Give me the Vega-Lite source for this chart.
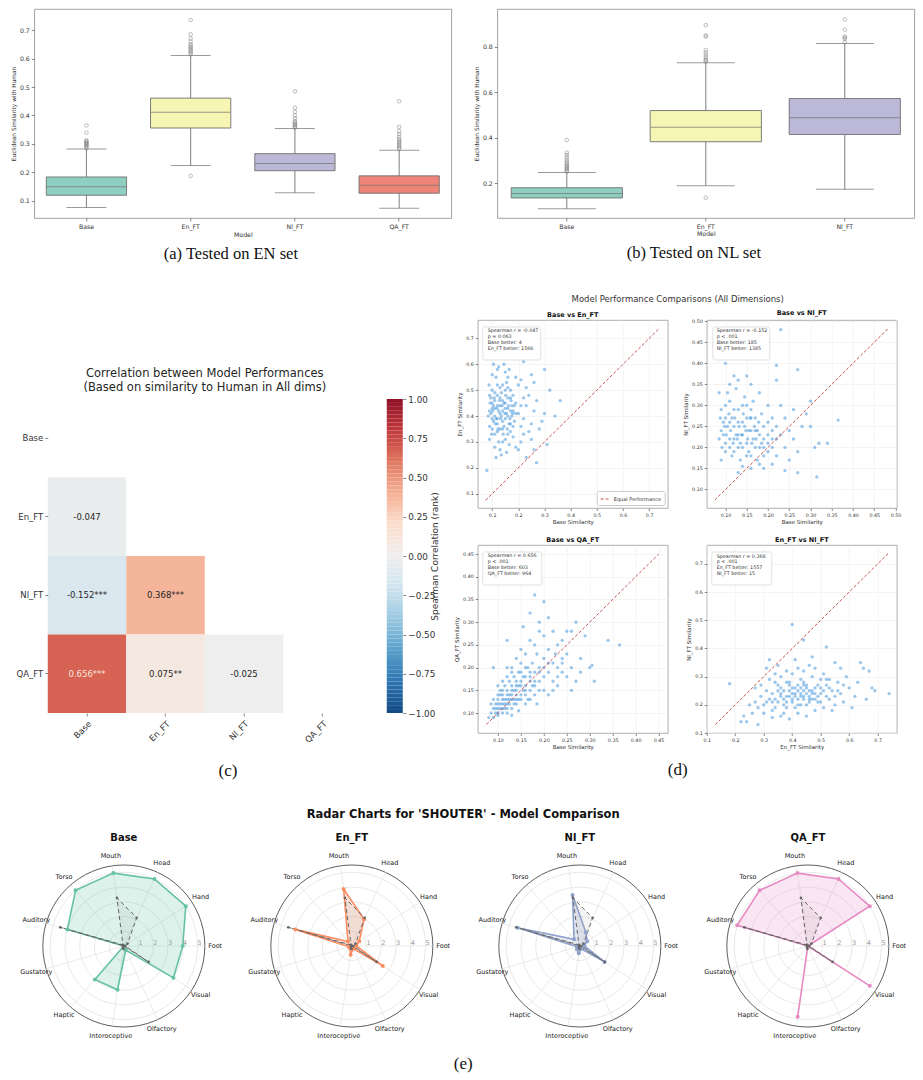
{
"$schema": "https://vega.github.io/schema/vega-lite/v6.json",
"background": "white",
"padding": {"left": 10, "top": 8, "right": 5, "bottom": 4},
"config": {
 "font": "DejaVu Sans",
 "view": {"stroke": "#8a8a8a", "strokeWidth": 0.8},
 "axis": {"labelFont": "DejaVu Sans", "titleFont": "DejaVu Sans", "labelFontSize": 6.2, "titleFontSize": 6.2, "labelColor": "#333333", "titleColor": "#333333", "titleFontWeight": "normal", "tickColor": "#555555", "tickSize": 3, "tickWidth": 0.7, "domain": false, "grid": false, "labelPadding": 2, "titlePadding": 3, "labelFlush": false, "labelOverlap": false},
 "title": {"font": "DejaVu Sans", "fontWeight": "normal", "color": "#222222"},
 "legend": {"labelFont": "DejaVu Sans"}
},
"datasets": {
 "boxA": [
  {"m": "Base", "lo": 0.077, "q1": 0.120, "med": 0.150, "q3": 0.184, "hi": 0.282},
  {"m": "En_FT", "lo": 0.224, "q1": 0.356, "med": 0.411, "q3": 0.461, "hi": 0.611},
  {"m": "Nl_FT", "lo": 0.129, "q1": 0.206, "med": 0.231, "q3": 0.266, "hi": 0.354},
  {"m": "QA_FT", "lo": 0.074, "q1": 0.127, "med": 0.155, "q3": 0.188, "hi": 0.278}
 ],
 "outA": [
  {"m": "Base", "v": 0.285}, {"m": "Base", "v": 0.29}, {"m": "Base", "v": 0.293}, {"m": "Base", "v": 0.297}, {"m": "Base", "v": 0.30}, {"m": "Base", "v": 0.303}, {"m": "Base", "v": 0.306}, {"m": "Base", "v": 0.31}, {"m": "Base", "v": 0.313}, {"m": "Base", "v": 0.34}, {"m": "Base", "v": 0.365},
  {"m": "En_FT", "v": 0.615}, {"m": "En_FT", "v": 0.62}, {"m": "En_FT", "v": 0.625}, {"m": "En_FT", "v": 0.63}, {"m": "En_FT", "v": 0.635}, {"m": "En_FT", "v": 0.64}, {"m": "En_FT", "v": 0.645}, {"m": "En_FT", "v": 0.65}, {"m": "En_FT", "v": 0.66}, {"m": "En_FT", "v": 0.67}, {"m": "En_FT", "v": 0.685}, {"m": "En_FT", "v": 0.735}, {"m": "En_FT", "v": 0.188},
  {"m": "Nl_FT", "v": 0.357}, {"m": "Nl_FT", "v": 0.36}, {"m": "Nl_FT", "v": 0.364}, {"m": "Nl_FT", "v": 0.368}, {"m": "Nl_FT", "v": 0.372}, {"m": "Nl_FT", "v": 0.376}, {"m": "Nl_FT", "v": 0.38}, {"m": "Nl_FT", "v": 0.39}, {"m": "Nl_FT", "v": 0.40}, {"m": "Nl_FT", "v": 0.413}, {"m": "Nl_FT", "v": 0.427}, {"m": "Nl_FT", "v": 0.485},
  {"m": "QA_FT", "v": 0.282}, {"m": "QA_FT", "v": 0.287}, {"m": "QA_FT", "v": 0.292}, {"m": "QA_FT", "v": 0.297}, {"m": "QA_FT", "v": 0.302}, {"m": "QA_FT", "v": 0.307}, {"m": "QA_FT", "v": 0.312}, {"m": "QA_FT", "v": 0.318}, {"m": "QA_FT", "v": 0.325}, {"m": "QA_FT", "v": 0.335}, {"m": "QA_FT", "v": 0.345}, {"m": "QA_FT", "v": 0.36}, {"m": "QA_FT", "v": 0.45}
 ],
 "boxB": [
  {"m": "Base", "lo": 0.089, "q1": 0.136, "med": 0.156, "q3": 0.181, "hi": 0.248},
  {"m": "En_FT", "lo": 0.190, "q1": 0.383, "med": 0.447, "q3": 0.520, "hi": 0.730},
  {"m": "Nl_FT", "lo": 0.174, "q1": 0.415, "med": 0.488, "q3": 0.573, "hi": 0.815}
 ],
 "outB": [
  {"m": "Base", "v": 0.252}, {"m": "Base", "v": 0.257}, {"m": "Base", "v": 0.262}, {"m": "Base", "v": 0.267}, {"m": "Base", "v": 0.272}, {"m": "Base", "v": 0.277}, {"m": "Base", "v": 0.283}, {"m": "Base", "v": 0.29}, {"m": "Base", "v": 0.297}, {"m": "Base", "v": 0.305}, {"m": "Base", "v": 0.315}, {"m": "Base", "v": 0.325}, {"m": "Base", "v": 0.335}, {"m": "Base", "v": 0.39},
  {"m": "En_FT", "v": 0.735}, {"m": "En_FT", "v": 0.74}, {"m": "En_FT", "v": 0.745}, {"m": "En_FT", "v": 0.755}, {"m": "En_FT", "v": 0.765}, {"m": "En_FT", "v": 0.775}, {"m": "En_FT", "v": 0.785}, {"m": "En_FT", "v": 0.845}, {"m": "En_FT", "v": 0.85}, {"m": "En_FT", "v": 0.895}, {"m": "En_FT", "v": 0.137},
  {"m": "Nl_FT", "v": 0.82}, {"m": "Nl_FT", "v": 0.835}, {"m": "Nl_FT", "v": 0.84}, {"m": "Nl_FT", "v": 0.845}, {"m": "Nl_FT", "v": 0.875}, {"m": "Nl_FT", "v": 0.92}
 ],
 "corr": [
  {"row": "En_FT", "col": "Base", "r": -0.047, "lab": "-0.047"},
  {"row": "Nl_FT", "col": "Base", "r": -0.152, "lab": "-0.152***"},
  {"row": "Nl_FT", "col": "En_FT", "r": 0.368, "lab": "0.368***"},
  {"row": "QA_FT", "col": "Base", "r": 0.656, "lab": "0.656***"},
  {"row": "QA_FT", "col": "En_FT", "r": 0.075, "lab": "0.075**"},
  {"row": "QA_FT", "col": "Nl_FT", "r": -0.025, "lab": "-0.025"}
 ],
 "cbar": [
  {"a":-1,"b":-0.975},{"a":-0.975,"b":-0.95},{"a":-0.95,"b":-0.925},{"a":-0.925,"b":-0.9},{"a":-0.9,"b":-0.875},{"a":-0.875,"b":-0.85},{"a":-0.85,"b":-0.825},{"a":-0.825,"b":-0.8},
  {"a":-0.8,"b":-0.775},{"a":-0.775,"b":-0.75},{"a":-0.75,"b":-0.725},{"a":-0.725,"b":-0.7},{"a":-0.7,"b":-0.675},{"a":-0.675,"b":-0.65},{"a":-0.65,"b":-0.625},{"a":-0.625,"b":-0.6},
  {"a":-0.6,"b":-0.575},{"a":-0.575,"b":-0.55},{"a":-0.55,"b":-0.525},{"a":-0.525,"b":-0.5},{"a":-0.5,"b":-0.475},{"a":-0.475,"b":-0.45},{"a":-0.45,"b":-0.425},{"a":-0.425,"b":-0.4},
  {"a":-0.4,"b":-0.375},{"a":-0.375,"b":-0.35},{"a":-0.35,"b":-0.325},{"a":-0.325,"b":-0.3},{"a":-0.3,"b":-0.275},{"a":-0.275,"b":-0.25},{"a":-0.25,"b":-0.225},{"a":-0.225,"b":-0.2},
  {"a":-0.2,"b":-0.175},{"a":-0.175,"b":-0.15},{"a":-0.15,"b":-0.125},{"a":-0.125,"b":-0.1},{"a":-0.1,"b":-0.075},{"a":-0.075,"b":-0.05},{"a":-0.05,"b":-0.025},{"a":-0.025,"b":0},
  {"a":0,"b":0.025},{"a":0.025,"b":0.05},{"a":0.05,"b":0.075},{"a":0.075,"b":0.1},{"a":0.1,"b":0.125},{"a":0.125,"b":0.15},{"a":0.15,"b":0.175},{"a":0.175,"b":0.2},
  {"a":0.2,"b":0.225},{"a":0.225,"b":0.25},{"a":0.25,"b":0.275},{"a":0.275,"b":0.3},{"a":0.3,"b":0.325},{"a":0.325,"b":0.35},{"a":0.35,"b":0.375},{"a":0.375,"b":0.4},
  {"a":0.4,"b":0.425},{"a":0.425,"b":0.45},{"a":0.45,"b":0.475},{"a":0.475,"b":0.5},{"a":0.5,"b":0.525},{"a":0.525,"b":0.55},{"a":0.55,"b":0.575},{"a":0.575,"b":0.6},
  {"a":0.6,"b":0.625},{"a":0.625,"b":0.65},{"a":0.65,"b":0.675},{"a":0.675,"b":0.7},{"a":0.7,"b":0.725},{"a":0.725,"b":0.75},{"a":0.75,"b":0.775},{"a":0.775,"b":0.8},
  {"a":0.8,"b":0.825},{"a":0.825,"b":0.85},{"a":0.85,"b":0.875},{"a":0.875,"b":0.9},{"a":0.9,"b":0.925},{"a":0.925,"b":0.95},{"a":0.95,"b":0.975},{"a":0.975,"b":1}
 ],
 "s1": [
  {"x":0.09,"y":0.42},{"x":0.10,"y":0.45},{"x":0.11,"y":0.40},{"x":0.12,"y":0.44},{"x":0.13,"y":0.41},{"x":0.14,"y":0.46},{"x":0.15,"y":0.39},{"x":0.16,"y":0.43},{"x":0.17,"y":0.37},{"x":0.18,"y":0.42},
  {"x":0.09,"y":0.36},{"x":0.10,"y":0.50},{"x":0.11,"y":0.33},{"x":0.12,"y":0.48},{"x":0.13,"y":0.35},{"x":0.14,"y":0.52},{"x":0.15,"y":0.31},{"x":0.16,"y":0.47},{"x":0.17,"y":0.34},{"x":0.19,"y":0.45},
  {"x":0.095,"y":0.47},{"x":0.105,"y":0.38},{"x":0.115,"y":0.55},{"x":0.125,"y":0.30},{"x":0.135,"y":0.49},{"x":0.145,"y":0.36},{"x":0.155,"y":0.53},{"x":0.165,"y":0.29},{"x":0.175,"y":0.44},{"x":0.185,"y":0.38},
  {"x":0.09,"y":0.31},{"x":0.10,"y":0.56},{"x":0.11,"y":0.28},{"x":0.12,"y":0.58},{"x":0.13,"y":0.27},{"x":0.14,"y":0.42},{"x":0.15,"y":0.57},{"x":0.16,"y":0.40},{"x":0.17,"y":0.50},{"x":0.18,"y":0.32},
  {"x":0.20,"y":0.41},{"x":0.21,"y":0.36},{"x":0.22,"y":0.47},{"x":0.20,"y":0.52},{"x":0.21,"y":0.30},{"x":0.22,"y":0.39},{"x":0.23,"y":0.44},{"x":0.24,"y":0.34},{"x":0.20,"y":0.27},{"x":0.23,"y":0.51},
  {"x":0.085,"y":0.40},{"x":0.088,"y":0.52},{"x":0.092,"y":0.45},{"x":0.098,"y":0.33},{"x":0.102,"y":0.42},{"x":0.108,"y":0.47},{"x":0.112,"y":0.37},{"x":0.118,"y":0.43},{"x":0.122,"y":0.35},{"x":0.128,"y":0.46},
  {"x":0.132,"y":0.39},{"x":0.138,"y":0.44},{"x":0.142,"y":0.33},{"x":0.148,"y":0.41},{"x":0.152,"y":0.48},{"x":0.158,"y":0.35},{"x":0.162,"y":0.44},{"x":0.168,"y":0.39},{"x":0.172,"y":0.46},{"x":0.178,"y":0.41},
  {"x":0.105,"y":0.60},{"x":0.125,"y":0.59},{"x":0.145,"y":0.60},{"x":0.165,"y":0.58},{"x":0.135,"y":0.25},{"x":0.155,"y":0.26},{"x":0.115,"y":0.24},{"x":0.19,"y":0.28},{"x":0.19,"y":0.55},{"x":0.21,"y":0.54},
  {"x":0.25,"y":0.37},{"x":0.26,"y":0.42},{"x":0.25,"y":0.31},{"x":0.27,"y":0.46},{"x":0.28,"y":0.35},{"x":0.26,"y":0.27},{"x":0.25,"y":0.56},{"x":0.26,"y":0.53},{"x":0.22,"y":0.61},{"x":0.24,"y":0.48},
  {"x":0.30,"y":0.58},{"x":0.32,"y":0.50},{"x":0.36,"y":0.46},{"x":0.34,"y":0.40},{"x":0.31,"y":0.29},{"x":0.27,"y":0.22},{"x":0.30,"y":0.41},{"x":0.08,"y":0.19},{"x":0.29,"y":0.38},{"x":0.23,"y":0.24},
  {"x":0.12,"y":0.52},{"x":0.14,"y":0.38},{"x":0.10,"y":0.43},{"x":0.16,"y":0.51},{"x":0.18,"y":0.48},{"x":0.11,"y":0.46},{"x":0.13,"y":0.44},{"x":0.15,"y":0.45},{"x":0.17,"y":0.42},{"x":0.12,"y":0.39},
  {"x":0.095,"y":0.41},{"x":0.105,"y":0.44},{"x":0.115,"y":0.39},{"x":0.125,"y":0.42},{"x":0.135,"y":0.40},{"x":0.145,"y":0.45},{"x":0.155,"y":0.41},{"x":0.165,"y":0.37},{"x":0.175,"y":0.40},{"x":0.185,"y":0.44},
  {"x":0.10,"y":0.35},{"x":0.11,"y":0.49},{"x":0.12,"y":0.34},{"x":0.13,"y":0.47},{"x":0.14,"y":0.35},{"x":0.15,"y":0.50},{"x":0.16,"y":0.33},{"x":0.17,"y":0.47},{"x":0.18,"y":0.36},{"x":0.19,"y":0.41},
  {"x":0.09,"y":0.48},{"x":0.10,"y":0.39},{"x":0.11,"y":0.43},{"x":0.12,"y":0.37},{"x":0.13,"y":0.51},{"x":0.14,"y":0.30},{"x":0.15,"y":0.43},{"x":0.16,"y":0.55},{"x":0.21,"y":0.44},{"x":0.22,"y":0.33}
 ],
 "s2": [
  {"x":0.09,"y":0.24},{"x":0.10,"y":0.27},{"x":0.11,"y":0.22},{"x":0.12,"y":0.25},{"x":0.13,"y":0.23},{"x":0.14,"y":0.26},{"x":0.15,"y":0.21},{"x":0.16,"y":0.24},{"x":0.17,"y":0.20},{"x":0.18,"y":0.23},
  {"x":0.09,"y":0.29},{"x":0.10,"y":0.21},{"x":0.11,"y":0.31},{"x":0.12,"y":0.19},{"x":0.13,"y":0.29},{"x":0.14,"y":0.20},{"x":0.15,"y":0.30},{"x":0.16,"y":0.18},{"x":0.17,"y":0.27},{"x":0.19,"y":0.25},
  {"x":0.095,"y":0.26},{"x":0.105,"y":0.33},{"x":0.115,"y":0.18},{"x":0.125,"y":0.34},{"x":0.135,"y":0.17},{"x":0.145,"y":0.32},{"x":0.155,"y":0.19},{"x":0.165,"y":0.31},{"x":0.175,"y":0.17},{"x":0.185,"y":0.28},
  {"x":0.20,"y":0.21},{"x":0.21,"y":0.24},{"x":0.20,"y":0.19},{"x":0.22,"y":0.22},{"x":0.21,"y":0.27},{"x":0.19,"y":0.20},{"x":0.20,"y":0.26},{"x":0.22,"y":0.18},{"x":0.23,"y":0.23},{"x":0.21,"y":0.20},
  {"x":0.085,"y":0.22},{"x":0.088,"y":0.27},{"x":0.092,"y":0.20},{"x":0.098,"y":0.25},{"x":0.102,"y":0.23},{"x":0.108,"y":0.28},{"x":0.112,"y":0.24},{"x":0.118,"y":0.21},{"x":0.122,"y":0.27},{"x":0.128,"y":0.22},
  {"x":0.132,"y":0.25},{"x":0.138,"y":0.23},{"x":0.142,"y":0.28},{"x":0.148,"y":0.24},{"x":0.152,"y":0.22},{"x":0.158,"y":0.27},{"x":0.162,"y":0.21},{"x":0.168,"y":0.25},{"x":0.172,"y":0.22},{"x":0.178,"y":0.26},
  {"x":0.11,"y":0.35},{"x":0.13,"y":0.36},{"x":0.15,"y":0.37},{"x":0.12,"y":0.37},{"x":0.16,"y":0.35},{"x":0.14,"y":0.155},{"x":0.16,"y":0.15},{"x":0.18,"y":0.16},{"x":0.13,"y":0.14},{"x":0.19,"y":0.15},
  {"x":0.24,"y":0.20},{"x":0.25,"y":0.24},{"x":0.24,"y":0.27},{"x":0.26,"y":0.22},{"x":0.25,"y":0.17},{"x":0.27,"y":0.19},{"x":0.26,"y":0.29},{"x":0.28,"y":0.25},{"x":0.23,"y":0.30},{"x":0.24,"y":0.145},
  {"x":0.23,"y":0.48},{"x":0.10,"y":0.40},{"x":0.22,"y":0.395},{"x":0.27,"y":0.385},{"x":0.365,"y":0.265},{"x":0.34,"y":0.21},{"x":0.315,"y":0.13},{"x":0.30,"y":0.31},{"x":0.31,"y":0.20},{"x":0.30,"y":0.25},
  {"x":0.29,"y":0.28},{"x":0.32,"y":0.21},{"x":0.27,"y":0.14},{"x":0.22,"y":0.36},{"x":0.085,"y":0.33},{"x":0.09,"y":0.17},{"x":0.20,"y":0.30},{"x":0.18,"y":0.33},{"x":0.21,"y":0.16},{"x":0.19,"y":0.22},
  {"x":0.095,"y":0.23},{"x":0.105,"y":0.25},{"x":0.115,"y":0.27},{"x":0.125,"y":0.23},{"x":0.135,"y":0.21},{"x":0.145,"y":0.25},{"x":0.155,"y":0.24},{"x":0.165,"y":0.22},{"x":0.175,"y":0.24},{"x":0.185,"y":0.21},
  {"x":0.10,"y":0.30},{"x":0.11,"y":0.26},{"x":0.12,"y":0.29},{"x":0.13,"y":0.26},{"x":0.14,"y":0.30},{"x":0.15,"y":0.27},{"x":0.16,"y":0.29},{"x":0.17,"y":0.24},{"x":0.18,"y":0.20},{"x":0.19,"y":0.18},
  {"x":0.10,"y":0.19},{"x":0.11,"y":0.20},{"x":0.12,"y":0.22},{"x":0.13,"y":0.20},{"x":0.14,"y":0.23},{"x":0.15,"y":0.18},{"x":0.16,"y":0.27},{"x":0.20,"y":0.23},{"x":0.21,"y":0.22},{"x":0.22,"y":0.25}
 ],
 "s3": [
  {"x":0.085,"y":0.10},{"x":0.09,"y":0.11},{"x":0.095,"y":0.12},{"x":0.10,"y":0.11},{"x":0.10,"y":0.13},{"x":0.105,"y":0.12},{"x":0.11,"y":0.14},{"x":0.11,"y":0.10},{"x":0.115,"y":0.13},{"x":0.12,"y":0.12},
  {"x":0.12,"y":0.15},{"x":0.125,"y":0.14},{"x":0.13,"y":0.13},{"x":0.13,"y":0.16},{"x":0.135,"y":0.15},{"x":0.14,"y":0.14},{"x":0.14,"y":0.17},{"x":0.145,"y":0.13},{"x":0.15,"y":0.16},{"x":0.15,"y":0.19},
  {"x":0.155,"y":0.15},{"x":0.16,"y":0.18},{"x":0.16,"y":0.14},{"x":0.165,"y":0.20},{"x":0.17,"y":0.17},{"x":0.17,"y":0.15},{"x":0.175,"y":0.21},{"x":0.18,"y":0.19},{"x":0.18,"y":0.16},{"x":0.185,"y":0.23},
  {"x":0.19,"y":0.20},{"x":0.19,"y":0.17},{"x":0.20,"y":0.22},{"x":0.20,"y":0.18},{"x":0.21,"y":0.19},{"x":0.21,"y":0.24},{"x":0.22,"y":0.21},{"x":0.22,"y":0.17},{"x":0.23,"y":0.20},{"x":0.24,"y":0.19},
  {"x":0.09,"y":0.09},{"x":0.095,"y":0.10},{"x":0.10,"y":0.095},{"x":0.105,"y":0.14},{"x":0.11,"y":0.12},{"x":0.115,"y":0.11},{"x":0.12,"y":0.10},{"x":0.125,"y":0.12},{"x":0.13,"y":0.11},{"x":0.135,"y":0.13},
  {"x":0.14,"y":0.12},{"x":0.145,"y":0.16},{"x":0.15,"y":0.13},{"x":0.155,"y":0.18},{"x":0.16,"y":0.16},{"x":0.165,"y":0.13},{"x":0.17,"y":0.19},{"x":0.175,"y":0.16},{"x":0.18,"y":0.14},{"x":0.19,"y":0.15},
  {"x":0.12,"y":0.18},{"x":0.13,"y":0.20},{"x":0.14,"y":0.22},{"x":0.15,"y":0.24},{"x":0.16,"y":0.23},{"x":0.17,"y":0.26},{"x":0.18,"y":0.25},{"x":0.19,"y":0.28},{"x":0.20,"y":0.27},{"x":0.15,"y":0.21},
  {"x":0.10,"y":0.16},{"x":0.11,"y":0.17},{"x":0.12,"y":0.20},{"x":0.13,"y":0.19},{"x":0.16,"y":0.12},{"x":0.17,"y":0.13},{"x":0.20,"y":0.15},{"x":0.21,"y":0.14},{"x":0.22,"y":0.15},{"x":0.23,"y":0.16},
  {"x":0.24,"y":0.22},{"x":0.25,"y":0.18},{"x":0.26,"y":0.20},{"x":0.25,"y":0.23},{"x":0.27,"y":0.17},{"x":0.28,"y":0.19},{"x":0.26,"y":0.15},{"x":0.24,"y":0.26},{"x":0.22,"y":0.28},{"x":0.23,"y":0.25},
  {"x":0.18,"y":0.36},{"x":0.20,"y":0.345},{"x":0.34,"y":0.26},{"x":0.365,"y":0.25},{"x":0.30,"y":0.20},{"x":0.31,"y":0.17},{"x":0.29,"y":0.27},{"x":0.25,"y":0.28},{"x":0.27,"y":0.30},{"x":0.21,"y":0.31},
  {"x":0.08,"y":0.09},{"x":0.085,"y":0.12},{"x":0.09,"y":0.13},{"x":0.10,"y":0.10},{"x":0.11,"y":0.15},{"x":0.12,"y":0.13},{"x":0.14,"y":0.15},{"x":0.16,"y":0.20},{"x":0.13,"y":0.095},{"x":0.19,"y":0.30},
  {"x":0.17,"y":0.32},{"x":0.155,"y":0.29},{"x":0.305,"y":0.205},{"x":0.28,"y":0.22},{"x":0.09,"y":0.20},{"x":0.225,"y":0.23},{"x":0.12,"y":0.26},{"x":0.145,"y":0.105},{"x":0.185,"y":0.12},{"x":0.26,"y":0.28},
  {"x":0.095,"y":0.11},{"x":0.10,"y":0.12},{"x":0.105,"y":0.11},{"x":0.11,"y":0.13},{"x":0.115,"y":0.12},{"x":0.12,"y":0.14},{"x":0.125,"y":0.13},{"x":0.13,"y":0.14},{"x":0.135,"y":0.12},{"x":0.14,"y":0.16},
  {"x":0.10,"y":0.14},{"x":0.11,"y":0.11},{"x":0.12,"y":0.11},{"x":0.13,"y":0.15},{"x":0.14,"y":0.13},{"x":0.15,"y":0.14},{"x":0.15,"y":0.17},{"x":0.16,"y":0.15},{"x":0.17,"y":0.18},{"x":0.18,"y":0.17},
  {"x":0.105,"y":0.15},{"x":0.115,"y":0.16},{"x":0.125,"y":0.17},{"x":0.135,"y":0.18},{"x":0.145,"y":0.19},{"x":0.19,"y":0.19},{"x":0.20,"y":0.20},{"x":0.21,"y":0.21},{"x":0.23,"y":0.18},{"x":0.24,"y":0.21}
 ],
 "s4": [
  {"x":0.30,"y":0.20},{"x":0.32,"y":0.22},{"x":0.34,"y":0.19},{"x":0.36,"y":0.23},{"x":0.38,"y":0.21},{"x":0.40,"y":0.24},{"x":0.42,"y":0.22},{"x":0.44,"y":0.25},{"x":0.46,"y":0.23},{"x":0.48,"y":0.26},
  {"x":0.50,"y":0.24},{"x":0.52,"y":0.27},{"x":0.54,"y":0.25},{"x":0.56,"y":0.28},{"x":0.31,"y":0.25},{"x":0.33,"y":0.18},{"x":0.35,"y":0.27},{"x":0.37,"y":0.17},{"x":0.39,"y":0.28},{"x":0.41,"y":0.19},
  {"x":0.43,"y":0.29},{"x":0.45,"y":0.20},{"x":0.47,"y":0.30},{"x":0.49,"y":0.21},{"x":0.51,"y":0.31},{"x":0.53,"y":0.22},{"x":0.55,"y":0.20},{"x":0.57,"y":0.24},{"x":0.29,"y":0.23},{"x":0.28,"y":0.19},
  {"x":0.35,"y":0.21},{"x":0.37,"y":0.25},{"x":0.39,"y":0.23},{"x":0.41,"y":0.26},{"x":0.43,"y":0.24},{"x":0.45,"y":0.27},{"x":0.47,"y":0.25},{"x":0.40,"y":0.21},{"x":0.42,"y":0.27},{"x":0.44,"y":0.23},
  {"x":0.36,"y":0.30},{"x":0.38,"y":0.32},{"x":0.40,"y":0.31},{"x":0.42,"y":0.33},{"x":0.44,"y":0.32},{"x":0.46,"y":0.34},{"x":0.48,"y":0.33},{"x":0.50,"y":0.29},{"x":0.34,"y":0.31},{"x":0.32,"y":0.29},
  {"x":0.30,"y":0.17},{"x":0.33,"y":0.155},{"x":0.36,"y":0.16},{"x":0.39,"y":0.15},{"x":0.42,"y":0.17},{"x":0.45,"y":0.16},{"x":0.48,"y":0.18},{"x":0.51,"y":0.19},{"x":0.27,"y":0.21},{"x":0.26,"y":0.17},
  {"x":0.58,"y":0.21},{"x":0.60,"y":0.26},{"x":0.62,"y":0.23},{"x":0.59,"y":0.30},{"x":0.61,"y":0.19},{"x":0.63,"y":0.28},{"x":0.65,"y":0.33},{"x":0.66,"y":0.22},{"x":0.57,"y":0.33},{"x":0.55,"y":0.35},
  {"x":0.24,"y":0.14},{"x":0.25,"y":0.20},{"x":0.23,"y":0.16},{"x":0.22,"y":0.14},{"x":0.28,"y":0.13},{"x":0.32,"y":0.36},{"x":0.31,"y":0.33},{"x":0.29,"y":0.27},{"x":0.27,"y":0.26},{"x":0.35,"y":0.34},
  {"x":0.18,"y":0.275},{"x":0.40,"y":0.485},{"x":0.74,"y":0.24},{"x":0.69,"y":0.25},{"x":0.52,"y":0.405},{"x":0.44,"y":0.43},{"x":0.67,"y":0.32},{"x":0.68,"y":0.26},{"x":0.64,"y":0.35},{"x":0.47,"y":0.37},
  {"x":0.41,"y":0.36},{"x":0.43,"y":0.20},{"x":0.46,"y":0.21},{"x":0.38,"y":0.19},{"x":0.53,"y":0.26},{"x":0.49,"y":0.23},{"x":0.37,"y":0.22},{"x":0.33,"y":0.24},{"x":0.55,"y":0.23},{"x":0.50,"y":0.21},
  {"x":0.41,"y":0.23},{"x":0.43,"y":0.26},{"x":0.39,"y":0.25},{"x":0.45,"y":0.24},{"x":0.47,"y":0.22},{"x":0.36,"y":0.26},{"x":0.52,"y":0.29},{"x":0.54,"y":0.18},{"x":0.34,"y":0.28},{"x":0.44,"y":0.28},
  {"x":0.38,"y":0.23},{"x":0.40,"y":0.22},{"x":0.42,"y":0.25},{"x":0.44,"y":0.22},{"x":0.46,"y":0.25},{"x":0.48,"y":0.24},{"x":0.36,"y":0.24},{"x":0.34,"y":0.22},{"x":0.39,"y":0.27},{"x":0.41,"y":0.24},
  {"x":0.43,"y":0.23},{"x":0.45,"y":0.26},{"x":0.47,"y":0.24},{"x":0.49,"y":0.27},{"x":0.51,"y":0.25},{"x":0.37,"y":0.20},{"x":0.40,"y":0.26},{"x":0.42,"y":0.20},{"x":0.44,"y":0.27},{"x":0.46,"y":0.22},
  {"x":0.31,"y":0.21},{"x":0.33,"y":0.21},{"x":0.35,"y":0.25},{"x":0.38,"y":0.28},{"x":0.48,"y":0.22},{"x":0.50,"y":0.26},{"x":0.52,"y":0.23},{"x":0.53,"y":0.29},{"x":0.56,"y":0.25},{"x":0.58,"y":0.27}
 ],
 "dims": [
  {"k": 0, "d": "Foot"}, {"k": 1, "d": "Hand"}, {"k": 2, "d": "Head"}, {"k": 3, "d": "Mouth"}, {"k": 4, "d": "Torso"}, {"k": 5, "d": "Auditory"},
  {"k": 6, "d": "Gustatory"}, {"k": 7, "d": "Haptic"}, {"k": 8, "d": "Interoceptive"}, {"k": 9, "d": "Olfactory"}, {"k": 10, "d": "Visual"}
 ],
 "rings": [{"r": 1, "o": 0}, {"r": 2, "o": 0}, {"r": 3, "o": 0}, {"r": 4, "o": 0}, {"r": 5, "o": 0}, {"r": 5.5, "o": 1}],
 "rticks": [{"t": 1}, {"t": 2}, {"t": 3}, {"t": 4}, {"t": 5}],
 "radar": [
  {"m":"Human","k":0,"v":0.1},{"m":"Human","k":1,"v":0.3},{"m":"Human","k":2,"v":2.1},{"m":"Human","k":3,"v":3.3},{"m":"Human","k":4,"v":0.1},{"m":"Human","k":5,"v":4.5},{"m":"Human","k":6,"v":0.0},{"m":"Human","k":7,"v":0.1},{"m":"Human","k":8,"v":0.2},{"m":"Human","k":9,"v":0.0},{"m":"Human","k":10,"v":2.0},
  {"m":"Base","k":0,"v":4.0},{"m":"Base","k":1,"v":5.0},{"m":"Base","k":2,"v":5.0},{"m":"Base","k":3,"v":5.0},{"m":"Base","k":4,"v":5.0},{"m":"Base","k":5,"v":4.0},{"m":"Base","k":6,"v":0.0},{"m":"Base","k":7,"v":3.0},{"m":"Base","k":8,"v":3.0},{"m":"Base","k":9,"v":0.3},{"m":"Base","k":10,"v":4.0},
  {"m":"En_FT","k":0,"v":0.3},{"m":"En_FT","k":1,"v":0.6},{"m":"En_FT","k":2,"v":2.0},{"m":"En_FT","k":3,"v":3.9},{"m":"En_FT","k":4,"v":0.4},{"m":"En_FT","k":5,"v":4.0},{"m":"En_FT","k":6,"v":0.2},{"m":"En_FT","k":7,"v":0.2},{"m":"En_FT","k":8,"v":0.6},{"m":"En_FT","k":9,"v":0.2},{"m":"En_FT","k":10,"v":2.5},
  {"m":"Nl_FT","k":0,"v":0.3},{"m":"Nl_FT","k":1,"v":0.6},{"m":"Nl_FT","k":2,"v":1.0},{"m":"Nl_FT","k":3,"v":3.5},{"m":"Nl_FT","k":4,"v":0.6},{"m":"Nl_FT","k":5,"v":4.4},{"m":"Nl_FT","k":6,"v":0.2},{"m":"Nl_FT","k":7,"v":0.3},{"m":"Nl_FT","k":8,"v":0.5},{"m":"Nl_FT","k":9,"v":0.2},{"m":"Nl_FT","k":10,"v":2.0},
  {"m":"QA_FT","k":0,"v":0.0},{"m":"QA_FT","k":1,"v":5.0},{"m":"QA_FT","k":2,"v":5.0},{"m":"QA_FT","k":3,"v":5.0},{"m":"QA_FT","k":4,"v":5.0},{"m":"QA_FT","k":5,"v":5.0},{"m":"QA_FT","k":6,"v":0.0},{"m":"QA_FT","k":7,"v":0.0},{"m":"QA_FT","k":8,"v":4.85},{"m":"QA_FT","k":9,"v":0.0},{"m":"QA_FT","k":10,"v":5.0}
 ]
},
"vconcat": [
 {
  "hconcat": [
   {
    "width": 417, "height": 209,
    "title": {"text": "(a) Tested on EN set", "orient": "bottom", "font": "Liberation Serif", "fontSize": 16.5, "fontWeight": "normal", "color": "#111111", "offset": 9, "anchor": "middle", "frame": "bounds"},
    "layer": [
     {"data": {"name": "boxA"}, "mark": {"type": "rule", "color": "#707070", "strokeWidth": 0.9},
      "encoding": {
       "x": {"field": "m", "type": "nominal", "scale": {"domain": ["Base", "En_FT", "Nl_FT", "QA_FT"], "paddingInner": 0, "paddingOuter": 0}, "axis": {"title": "Model", "labelAngle": 0, "titlePadding": 2, "titleColor": "#333333"}},
       "y": {"field": "lo", "type": "quantitative", "scale": {"domain": [0.04, 0.774], "nice": false, "zero": false}, "axis": {"title": "Euclidean Similarity with Human", "values": [0.1, 0.2, 0.3, 0.4, 0.5, 0.6, 0.7], "tickCount": 20, "format": ".1f", "titleFontSize": 5.8, "labelOverlap": false}},
       "y2": {"field": "hi"}}},
     {"data": {"name": "boxA"}, "mark": {"type": "bar", "width": {"band": 0.77}, "stroke": "#707070", "strokeWidth": 0.9},
      "encoding": {"x": {"field": "m", "type": "nominal"}, "y": {"field": "q1", "type": "quantitative"}, "y2": {"field": "q3"},
       "color": {"field": "m", "type": "nominal", "scale": {"domain": ["Base", "En_FT", "Nl_FT", "QA_FT"], "range": ["#8fcfc1", "#f6f5b3", "#bcb8d8", "#ee8477"]}, "legend": null}}},
     {"data": {"name": "boxA"}, "mark": {"type": "tick", "color": "#707070", "size": 80, "thickness": 1},
      "encoding": {"x": {"field": "m", "type": "nominal"}, "y": {"field": "med", "type": "quantitative"}}},
     {"data": {"name": "boxA"}, "mark": {"type": "tick", "color": "#707070", "size": 40, "thickness": 1},
      "encoding": {"x": {"field": "m", "type": "nominal"}, "y": {"field": "lo", "type": "quantitative"}}},
     {"data": {"name": "boxA"}, "mark": {"type": "tick", "color": "#707070", "size": 40, "thickness": 1},
      "encoding": {"x": {"field": "m", "type": "nominal"}, "y": {"field": "hi", "type": "quantitative"}}},
     {"data": {"name": "outA"}, "mark": {"type": "point", "shape": "circle", "filled": false, "size": 13, "color": "#7a7a7a", "strokeWidth": 0.7},
      "encoding": {"x": {"field": "m", "type": "nominal"}, "y": {"field": "v", "type": "quantitative"}}}
    ]
   },
   {
    "width": 417, "height": 209,
    "title": {"text": "(b) Tested on NL set", "orient": "bottom", "font": "Liberation Serif", "fontSize": 16.5, "fontWeight": "normal", "color": "#111111", "offset": 9, "anchor": "middle", "frame": "bounds"},
    "layer": [
     {"data": {"name": "boxB"}, "mark": {"type": "rule", "color": "#707070", "strokeWidth": 0.9},
      "encoding": {
       "x": {"field": "m", "type": "nominal", "scale": {"domain": ["Base", "En_FT", "Nl_FT"], "paddingInner": 0, "paddingOuter": 0}, "axis": {"title": "Model", "labelAngle": 0, "titlePadding": 1, "titleColor": "#333333"}},
       "y": {"field": "lo", "type": "quantitative", "scale": {"domain": [0.048, 0.966], "nice": false, "zero": false}, "axis": {"title": "Euclidean Similarity with Human", "values": [0.2, 0.4, 0.6, 0.8], "tickCount": 20, "format": ".1f", "titleFontSize": 5.8, "labelOverlap": false}},
       "y2": {"field": "hi"}}},
     {"data": {"name": "boxB"}, "mark": {"type": "bar", "width": {"band": 0.8}, "stroke": "#707070", "strokeWidth": 0.9},
      "encoding": {"x": {"field": "m", "type": "nominal"}, "y": {"field": "q1", "type": "quantitative"}, "y2": {"field": "q3"},
       "color": {"field": "m", "type": "nominal", "scale": {"domain": ["Base", "En_FT", "Nl_FT", "QA_FT"], "range": ["#8fcfc1", "#f6f5b3", "#bcb8d8", "#ee8477"]}, "legend": null}}},
     {"data": {"name": "boxB"}, "mark": {"type": "tick", "color": "#707070", "size": 111, "thickness": 1},
      "encoding": {"x": {"field": "m", "type": "nominal"}, "y": {"field": "med", "type": "quantitative"}}},
     {"data": {"name": "boxB"}, "mark": {"type": "tick", "color": "#707070", "size": 58, "thickness": 1},
      "encoding": {"x": {"field": "m", "type": "nominal"}, "y": {"field": "lo", "type": "quantitative"}}},
     {"data": {"name": "boxB"}, "mark": {"type": "tick", "color": "#707070", "size": 58, "thickness": 1},
      "encoding": {"x": {"field": "m", "type": "nominal"}, "y": {"field": "hi", "type": "quantitative"}}},
     {"data": {"name": "outB"}, "mark": {"type": "point", "shape": "circle", "filled": false, "size": 13, "color": "#7a7a7a", "strokeWidth": 0.7},
      "encoding": {"x": {"field": "m", "type": "nominal"}, "y": {"field": "v", "type": "quantitative"}}}
    ]
   }
  ],
  "spacing": 20
 },
 {
  "hconcat": [
   {
    "vconcat": [
     {
      "width": 314, "height": 37,
      "view": {"stroke": null},
      "data": {"values": [{"e": ""}]},
      "mark": {"type": "text"},
      "encoding": {"text": {"field": "e", "type": "nominal"}}
     },
     {
      "hconcat": [
       {
        "width": 314, "height": 314,
        "view": {"stroke": null},
        "title": {"text": ["Correlation between Model Performances", "(Based on similarity to Human in All dims)"], "fontSize": 11.5, "lineHeight": 14, "offset": 6, "color": "#262626", "frame": "group", "anchor": "middle"},
        "data": {"name": "corr"},
        "layer": [
         {"mark": {"type": "rect"},
          "encoding": {
           "x": {"field": "col", "type": "nominal", "scale": {"domain": ["Base", "En_FT", "Nl_FT", "QA_FT"], "paddingInner": 0, "paddingOuter": 0}, "axis": {"title": null, "labelAngle": -45, "labelFontSize": 8.5, "labelPadding": 3}},
           "y": {"field": "row", "type": "nominal", "scale": {"domain": ["Base", "En_FT", "Nl_FT", "QA_FT"], "paddingInner": 0, "paddingOuter": 0}, "axis": {"title": null, "labelAngle": 0, "labelFontSize": 8.5, "labelPadding": 2}},
           "color": {"field": "r", "type": "quantitative", "scale": {"scheme": "redblue", "reverse": true, "domain": [-1, 1]}, "legend": null}}},
         {"mark": {"type": "text", "fontSize": 8.5},
          "encoding": {
           "x": {"field": "col", "type": "nominal"},
           "y": {"field": "row", "type": "nominal"},
           "text": {"field": "lab", "type": "nominal"},
           "color": {"condition": {"test": "datum.r > 0.5", "value": "#fbe7df"}, "value": "#262626"}}}
        ]
       },
       {
        "width": 16, "height": 314,
        "view": {"stroke": null},
        "data": {"name": "cbar"},
        "mark": {"type": "rect"},
        "encoding": {
         "y": {"field": "a", "type": "quantitative", "scale": {"domain": [-1, 1], "nice": false, "zero": false}, "axis": {"orient": "right", "values": [-1, -0.75, -0.5, -0.25, 0, 0.25, 0.5, 0.75, 1], "tickCount": 20, "format": ".2f", "title": "Spearman Correlation (rank)", "titleAngle": 270, "labelFontSize": 8.8, "titleFontSize": 9, "titlePadding": 5, "labelOverlap": false}},
         "y2": {"field": "b"},
         "color": {"field": "a", "type": "quantitative", "scale": {"scheme": "redblue", "reverse": true, "domain": [-1, 1]}, "legend": null}}
       }
      ],
      "spacing": 25,
      "bounds": "flush"
     }
    ],
    "spacing": 10,
    "title": {"text": "(c)", "orient": "bottom", "font": "Liberation Serif", "fontSize": 17, "fontWeight": "normal", "color": "#111111", "offset": 19, "anchor": "middle", "frame": "bounds"}
   },
   {
    "vconcat": [
     {
      "concat": [
       {
        "width": 190, "height": 188,
        "view": {"stroke": "#9a9a9a", "strokeWidth": 0.8},
        "title": {"text": "Base vs En_FT", "fontSize": 6.5, "fontWeight": "bold", "color": "#111111", "offset": 2, "frame": "group"},
        "layer": [
         {"data": {"name": "s1"}, "mark": {"type": "point", "filled": true, "size": 11, "color": "#3a8fd9", "opacity": 0.5},
          "encoding": {
           "x": {"field": "x", "type": "quantitative", "scale": {"domain": [0.045, 0.771], "nice": false, "zero": false}, "axis": {"title": "Base Similarity", "values": [0.1, 0.2, 0.3, 0.4, 0.5, 0.6, 0.7], "tickCount": 20, "format": ".1f", "grid": true, "gridColor": "#ececec", "gridWidth": 0.6, "labelFontSize": 4.8, "titleFontSize": 5.5, "tickSize": 2.5, "titlePadding": 2, "labelOverlap": false}},
           "y": {"field": "y", "type": "quantitative", "scale": {"domain": [0.045, 0.771], "nice": false, "zero": false}, "axis": {"title": "En_FT Similarity", "values": [0.1, 0.2, 0.3, 0.4, 0.5, 0.6, 0.7], "tickCount": 20, "format": ".1f", "grid": true, "gridColor": "#ececec", "gridWidth": 0.6, "labelFontSize": 4.8, "titleFontSize": 5.5, "tickSize": 2.5, "titlePadding": 3, "labelOverlap": false}}}},
         {"data": {"values": [{"lo": 0.075, "hi": 0.74, "s": "Equal Performance"}]}, "mark": {"type": "rule", "strokeDash": [3, 2], "strokeWidth": 1},
          "encoding": {"x": {"field": "lo", "type": "quantitative"}, "x2": {"field": "hi"}, "y": {"field": "lo", "type": "quantitative"}, "y2": {"field": "hi"},
           "color": {"field": "s", "type": "nominal", "scale": {"range": ["#c9504c"]}, "legend": {"orient": "bottom-right", "title": null, "symbolType": "stroke", "symbolDash": [3, 2], "symbolStrokeWidth": 1, "symbolSize": 70, "labelFontSize": 5, "labelColor": "#333333", "fillColor": "white", "strokeColor": "#cccccc", "padding": 3, "offset": 3, "cornerRadius": 2}}}},
         {"data": {"values": [{"t": "Spearman r = -0.047|p = 0.063||Base better: 4|En_FT better: 1566"}]},
          "transform": [{"calculate": "0.0641", "as": "bx1"}, {"calculate": "0.2857", "as": "bx2"}, {"calculate": "0.744", "as": "by1"}, {"calculate": "0.6165", "as": "by2"}],
          "mark": {"type": "rect", "fill": "white", "fillOpacity": 0.85, "stroke": "#cccccc", "strokeWidth": 0.6, "cornerRadius": 2},
          "encoding": {"x": {"field": "bx1", "type": "quantitative"}, "x2": {"field": "bx2"}, "y": {"field": "by1", "type": "quantitative"}, "y2": {"field": "by2"}}},
         {"data": {"values": [{"t": "Spearman r = -0.047|p = 0.063||Base better: 4|En_FT better: 1566"}]},
          "mark": {"type": "text", "align": "left", "baseline": "top", "fontSize": 4.8, "lineHeight": 5.9, "lineBreak": "|", "color": "#333333"},
          "encoding": {"x": {"datum": 0.0832, "type": "quantitative"}, "y": {"datum": 0.7382, "type": "quantitative"}, "text": {"field": "t", "type": "nominal"}}}
        ]
       },
       {
        "width": 190, "height": 188,
        "view": {"stroke": "#9a9a9a", "strokeWidth": 0.8},
        "title": {"text": "Base vs Nl_FT", "fontSize": 6.5, "fontWeight": "bold", "color": "#111111", "offset": 2, "frame": "group"},
        "layer": [
         {"data": {"name": "s2"}, "mark": {"type": "point", "filled": true, "size": 11, "color": "#3a8fd9", "opacity": 0.5},
          "encoding": {
           "x": {"field": "x", "type": "quantitative", "scale": {"domain": [0.056, 0.503], "nice": false, "zero": false}, "axis": {"title": "Base Similarity", "values": [0.1, 0.15, 0.2, 0.25, 0.3, 0.35, 0.4, 0.45, 0.5], "tickCount": 20, "format": ".2f", "grid": true, "gridColor": "#ececec", "gridWidth": 0.6, "labelFontSize": 4.8, "titleFontSize": 5.5, "tickSize": 2.5, "titlePadding": 2, "labelOverlap": false}},
           "y": {"field": "y", "type": "quantitative", "scale": {"domain": [0.056, 0.503], "nice": false, "zero": false}, "axis": {"title": "Nl_FT Similarity", "values": [0.1, 0.15, 0.2, 0.25, 0.3, 0.35, 0.4, 0.45, 0.5], "tickCount": 20, "format": ".2f", "grid": true, "gridColor": "#ececec", "gridWidth": 0.6, "labelFontSize": 4.8, "titleFontSize": 5.5, "tickSize": 2.5, "titlePadding": 3, "labelOverlap": false}}}},
         {"data": {"values": [{"lo": 0.075, "hi": 0.485}]}, "mark": {"type": "rule", "strokeDash": [3, 2], "strokeWidth": 1, "color": "#c9504c"},
          "encoding": {"x": {"field": "lo", "type": "quantitative"}, "x2": {"field": "hi"}, "y": {"field": "lo", "type": "quantitative"}, "y2": {"field": "hi"}}},
         {"data": {"values": [{"t": "Spearman r = -0.152|p < .001||Base better: 185|Nl_FT better: 1385"}]},
          "transform": [{"calculate": "0.0701", "as": "bx1"}, {"calculate": "0.2042", "as": "bx2"}, {"calculate": "0.4864", "as": "by1"}, {"calculate": "0.4079", "as": "by2"}],
          "mark": {"type": "rect", "fill": "white", "fillOpacity": 0.85, "stroke": "#cccccc", "strokeWidth": 0.6, "cornerRadius": 2},
          "encoding": {"x": {"field": "bx1", "type": "quantitative"}, "x2": {"field": "bx2"}, "y": {"field": "by1", "type": "quantitative"}, "y2": {"field": "by2"}}},
         {"data": {"values": [{"t": "Spearman r = -0.152|p < .001||Base better: 185|Nl_FT better: 1385"}]},
          "mark": {"type": "text", "align": "left", "baseline": "top", "fontSize": 4.8, "lineHeight": 5.9, "lineBreak": "|", "color": "#333333"},
          "encoding": {"x": {"datum": 0.0795, "type": "quantitative"}, "y": {"datum": 0.4828, "type": "quantitative"}, "text": {"field": "t", "type": "nominal"}}}
        ]
       },
       {
        "width": 190, "height": 188,
        "view": {"stroke": "#9a9a9a", "strokeWidth": 0.8},
        "title": {"text": "Base vs QA_FT", "fontSize": 6.5, "fontWeight": "bold", "color": "#111111", "offset": 2, "frame": "group"},
        "layer": [
         {"data": {"name": "s3"}, "mark": {"type": "point", "filled": true, "size": 11, "color": "#3a8fd9", "opacity": 0.5},
          "encoding": {
           "x": {"field": "x", "type": "quantitative", "scale": {"domain": [0.056, 0.47], "nice": false, "zero": false}, "axis": {"title": "Base Similarity", "values": [0.1, 0.15, 0.2, 0.25, 0.3, 0.35, 0.4, 0.45], "tickCount": 20, "format": ".2f", "grid": true, "gridColor": "#ececec", "gridWidth": 0.6, "labelFontSize": 4.8, "titleFontSize": 5.5, "tickSize": 2.5, "titlePadding": 2, "labelOverlap": false}},
           "y": {"field": "y", "type": "quantitative", "scale": {"domain": [0.056, 0.47], "nice": false, "zero": false}, "axis": {"title": "QA_FT Similarity", "values": [0.1, 0.15, 0.2, 0.25, 0.3, 0.35, 0.4, 0.45], "tickCount": 20, "format": ".2f", "grid": true, "gridColor": "#ececec", "gridWidth": 0.6, "labelFontSize": 4.8, "titleFontSize": 5.5, "tickSize": 2.5, "titlePadding": 3, "labelOverlap": false}}}},
         {"data": {"values": [{"lo": 0.075, "hi": 0.45}]}, "mark": {"type": "rule", "strokeDash": [3, 2], "strokeWidth": 1, "color": "#c9504c"},
          "encoding": {"x": {"field": "lo", "type": "quantitative"}, "x2": {"field": "hi"}, "y": {"field": "lo", "type": "quantitative"}, "y2": {"field": "hi"}}},
         {"data": {"values": [{"t": "Spearman r = 0.656|p < .001||Base better: 603|QA_FT better: 964"}]},
          "transform": [{"calculate": "0.0669", "as": "bx1"}, {"calculate": "0.1955", "as": "bx2"}, {"calculate": "0.4546", "as": "by1"}, {"calculate": "0.3819", "as": "by2"}],
          "mark": {"type": "rect", "fill": "white", "fillOpacity": 0.85, "stroke": "#cccccc", "strokeWidth": 0.6, "cornerRadius": 2},
          "encoding": {"x": {"field": "bx1", "type": "quantitative"}, "x2": {"field": "bx2"}, "y": {"field": "by1", "type": "quantitative"}, "y2": {"field": "by2"}}},
         {"data": {"values": [{"t": "Spearman r = 0.656|p < .001||Base better: 603|QA_FT better: 964"}]},
          "mark": {"type": "text", "align": "left", "baseline": "top", "fontSize": 4.8, "lineHeight": 5.9, "lineBreak": "|", "color": "#333333"},
          "encoding": {"x": {"datum": 0.0778, "type": "quantitative"}, "y": {"datum": 0.4513, "type": "quantitative"}, "text": {"field": "t", "type": "nominal"}}}
        ]
       },
       {
        "width": 190, "height": 188,
        "view": {"stroke": "#9a9a9a", "strokeWidth": 0.8},
        "title": {"text": "En_FT vs Nl_FT", "fontSize": 6.5, "fontWeight": "bold", "color": "#111111", "offset": 2, "frame": "group"},
        "layer": [
         {"data": {"name": "s4"}, "mark": {"type": "point", "filled": true, "size": 11, "color": "#3a8fd9", "opacity": 0.5},
          "encoding": {
           "x": {"field": "x", "type": "quantitative", "scale": {"domain": [0.1, 0.767], "nice": false, "zero": false}, "axis": {"title": "En_FT Similarity", "values": [0.1, 0.2, 0.3, 0.4, 0.5, 0.6, 0.7], "tickCount": 20, "format": ".1f", "grid": true, "gridColor": "#ececec", "gridWidth": 0.6, "labelFontSize": 4.8, "titleFontSize": 5.5, "tickSize": 2.5, "titlePadding": 2, "labelOverlap": false}},
           "y": {"field": "y", "type": "quantitative", "scale": {"domain": [0.1, 0.767], "nice": false, "zero": false}, "axis": {"title": "Nl_FT Similarity", "values": [0.1, 0.2, 0.3, 0.4, 0.5, 0.6, 0.7], "tickCount": 20, "format": ".1f", "grid": true, "gridColor": "#ececec", "gridWidth": 0.6, "labelFontSize": 4.8, "titleFontSize": 5.5, "tickSize": 2.5, "titlePadding": 3, "labelOverlap": false}}}},
         {"data": {"values": [{"lo": 0.13, "hi": 0.74}]}, "mark": {"type": "rule", "strokeDash": [3, 2], "strokeWidth": 1, "color": "#c9504c"},
          "encoding": {"x": {"field": "lo", "type": "quantitative"}, "x2": {"field": "hi"}, "y": {"field": "lo", "type": "quantitative"}, "y2": {"field": "hi"}}},
         {"data": {"values": [{"t": "Spearman r = 0.368|p < .001||En_FT better: 1557|Nl_FT better: 15"}]},
          "transform": [{"calculate": "0.1176", "as": "bx1"}, {"calculate": "0.3282", "as": "bx2"}, {"calculate": "0.7422", "as": "by1"}, {"calculate": "0.6251", "as": "by2"}],
          "mark": {"type": "rect", "fill": "white", "fillOpacity": 0.85, "stroke": "#cccccc", "strokeWidth": 0.6, "cornerRadius": 2},
          "encoding": {"x": {"field": "bx1", "type": "quantitative"}, "x2": {"field": "bx2"}, "y": {"field": "by1", "type": "quantitative"}, "y2": {"field": "by2"}}},
         {"data": {"values": [{"t": "Spearman r = 0.368|p < .001||En_FT better: 1557|Nl_FT better: 15"}]},
          "mark": {"type": "text", "align": "left", "baseline": "top", "fontSize": 4.8, "lineHeight": 5.9, "lineBreak": "|", "color": "#333333"},
          "encoding": {"x": {"datum": 0.1351, "type": "quantitative"}, "y": {"datum": 0.7368, "type": "quantitative"}, "text": {"field": "t", "type": "nominal"}}}
        ]
       }
      ],
      "columns": 2,
      "spacing": {"row": 10, "column": 14},
      "title": {"text": "Model Performance Comparisons (All Dimensions)", "fontSize": 8.5, "color": "#333333", "offset": 6, "anchor": "middle"},
      "resolve": {"scale": {"color": "independent"}}
     }
    ],
    "title": {"text": "(d)", "orient": "bottom", "font": "Liberation Serif", "fontSize": 17, "fontWeight": "normal", "color": "#111111", "offset": 12, "anchor": "middle", "frame": "bounds"},
    "resolve": {"scale": {"color": "independent"}}
   }
  ],
  "spacing": 14,
  "resolve": {"scale": {"color": "independent"}}
 },
 {
  "vconcat": [
   {
    "hconcat": [
     {
      "width": 162, "height": 162, "view": {"stroke": null},
      "title": {"text": "Base", "fontSize": 10, "fontWeight": "bold", "color": "#111111", "offset": 10, "frame": "group"},
      "layer": [
       {"data": {"name": "rings"}, "mark": {"type": "point", "shape": "circle", "filled": false, "strokeWidth": 0.8, "opacity": 1},
        "encoding": {"x": {"datum": 0, "type": "quantitative", "scale": {"domain": [-5.5, 5.5], "nice": false, "zero": false}, "axis": null}, "y": {"datum": 0, "type": "quantitative", "scale": {"domain": [-5.5, 5.5], "nice": false, "zero": false}, "axis": null},
         "size": {"field": "r", "type": "quantitative", "scale": {"type": "pow", "exponent": 2, "domain": [0, 5.5], "range": [0, 26244]}, "legend": null},
         "stroke": {"field": "o", "type": "nominal", "scale": {"domain": [0, 1], "range": ["#e3e3e3", "#333333"]}, "legend": null}}},
       {"data": {"name": "dims"}, "transform": [{"calculate": "5.5*cos(datum.k*2*PI/11)", "as": "ex"}, {"calculate": "5.5*sin(datum.k*2*PI/11)", "as": "ey"}, {"calculate": "0", "as": "zz"}],
        "mark": {"type": "rule", "color": "#e3e3e3", "strokeWidth": 0.7},
        "encoding": {"x": {"field": "zz", "type": "quantitative", "axis": null}, "y": {"field": "zz", "type": "quantitative", "axis": null}, "x2": {"field": "ex"}, "y2": {"field": "ey"}}},
       {"data": {"name": "rticks"}, "transform": [{"calculate": "0", "as": "zz"}], "mark": {"type": "text", "fontSize": 6.5, "color": "#9a9a9a", "dx": 2, "dy": -3},
        "encoding": {"x": {"field": "t", "type": "quantitative", "axis": null}, "y": {"field": "zz", "type": "quantitative", "axis": null}, "text": {"field": "t", "type": "quantitative"}}},
       {"data": {"name": "radar"}, "transform": [{"filter": "datum.m == 'Base'"}, {"calculate": "datum.v*cos(datum.k*2*PI/11)", "as": "px"}, {"calculate": "datum.v*sin(datum.k*2*PI/11)", "as": "py"}],
        "mark": {"type": "line", "interpolate": "linear-closed", "color": "#66c2a5", "strokeWidth": 1.6, "fill": "#66c2a5", "fillOpacity": 0.22},
        "encoding": {"x": {"field": "px", "type": "quantitative", "axis": null}, "y": {"field": "py", "type": "quantitative", "axis": null}, "order": {"field": "k", "type": "quantitative"}}},
       {"data": {"name": "radar"}, "transform": [{"filter": "datum.m == 'Human'"}, {"calculate": "datum.v*cos(datum.k*2*PI/11)", "as": "px"}, {"calculate": "datum.v*sin(datum.k*2*PI/11)", "as": "py"}],
        "mark": {"type": "line", "interpolate": "linear-closed", "color": "#666666", "strokeWidth": 1, "strokeDash": [4, 3], "fill": "#999999", "fillOpacity": 0.12},
        "encoding": {"x": {"field": "px", "type": "quantitative", "axis": null}, "y": {"field": "py", "type": "quantitative", "axis": null}, "order": {"field": "k", "type": "quantitative"}}},
       {"data": {"name": "radar"}, "transform": [{"filter": "datum.m == 'Base'"}, {"calculate": "datum.v*cos(datum.k*2*PI/11)", "as": "px"}, {"calculate": "datum.v*sin(datum.k*2*PI/11)", "as": "py"}],
        "mark": {"type": "point", "filled": true, "size": 16, "color": "#66c2a5", "opacity": 1},
        "encoding": {"x": {"field": "px", "type": "quantitative", "axis": null}, "y": {"field": "py", "type": "quantitative", "axis": null}}},
       {"data": {"name": "radar"}, "transform": [{"filter": "datum.m == 'Human'"}, {"calculate": "datum.v*cos(datum.k*2*PI/11)", "as": "px"}, {"calculate": "datum.v*sin(datum.k*2*PI/11)", "as": "py"}],
        "mark": {"type": "point", "filled": true, "size": 7, "color": "#666666", "opacity": 1},
        "encoding": {"x": {"field": "px", "type": "quantitative", "axis": null}, "y": {"field": "py", "type": "quantitative", "axis": null}}},
       {"data": {"name": "dims"}, "transform": [{"calculate": "6.2*cos(datum.k*2*PI/11)", "as": "lx"}, {"calculate": "6.2*sin(datum.k*2*PI/11)", "as": "ly"}],
        "mark": {"type": "text", "fontSize": 6.5, "color": "#222222", "align": "center", "baseline": "middle"},
        "encoding": {"x": {"field": "lx", "type": "quantitative", "axis": null}, "y": {"field": "ly", "type": "quantitative", "axis": null}, "text": {"field": "d", "type": "nominal"}}}
      ]
     },
     {
      "width": 162, "height": 162, "view": {"stroke": null},
      "title": {"text": "En_FT", "fontSize": 10, "fontWeight": "bold", "color": "#111111", "offset": 10, "frame": "group"},
      "layer": [
       {"data": {"name": "rings"}, "mark": {"type": "point", "shape": "circle", "filled": false, "strokeWidth": 0.8, "opacity": 1},
        "encoding": {"x": {"datum": 0, "type": "quantitative", "scale": {"domain": [-5.5, 5.5], "nice": false, "zero": false}, "axis": null}, "y": {"datum": 0, "type": "quantitative", "scale": {"domain": [-5.5, 5.5], "nice": false, "zero": false}, "axis": null},
         "size": {"field": "r", "type": "quantitative", "scale": {"type": "pow", "exponent": 2, "domain": [0, 5.5], "range": [0, 26244]}, "legend": null},
         "stroke": {"field": "o", "type": "nominal", "scale": {"domain": [0, 1], "range": ["#e3e3e3", "#333333"]}, "legend": null}}},
       {"data": {"name": "dims"}, "transform": [{"calculate": "5.5*cos(datum.k*2*PI/11)", "as": "ex"}, {"calculate": "5.5*sin(datum.k*2*PI/11)", "as": "ey"}, {"calculate": "0", "as": "zz"}],
        "mark": {"type": "rule", "color": "#e3e3e3", "strokeWidth": 0.7},
        "encoding": {"x": {"field": "zz", "type": "quantitative", "axis": null}, "y": {"field": "zz", "type": "quantitative", "axis": null}, "x2": {"field": "ex"}, "y2": {"field": "ey"}}},
       {"data": {"name": "rticks"}, "transform": [{"calculate": "0", "as": "zz"}], "mark": {"type": "text", "fontSize": 6.5, "color": "#9a9a9a", "dx": 2, "dy": -3},
        "encoding": {"x": {"field": "t", "type": "quantitative", "axis": null}, "y": {"field": "zz", "type": "quantitative", "axis": null}, "text": {"field": "t", "type": "quantitative"}}},
       {"data": {"name": "radar"}, "transform": [{"filter": "datum.m == 'En_FT'"}, {"calculate": "datum.v*cos(datum.k*2*PI/11)", "as": "px"}, {"calculate": "datum.v*sin(datum.k*2*PI/11)", "as": "py"}],
        "mark": {"type": "line", "interpolate": "linear-closed", "color": "#fc8d62", "strokeWidth": 1.6, "fill": "#fc8d62", "fillOpacity": 0.22},
        "encoding": {"x": {"field": "px", "type": "quantitative", "axis": null}, "y": {"field": "py", "type": "quantitative", "axis": null}, "order": {"field": "k", "type": "quantitative"}}},
       {"data": {"name": "radar"}, "transform": [{"filter": "datum.m == 'Human'"}, {"calculate": "datum.v*cos(datum.k*2*PI/11)", "as": "px"}, {"calculate": "datum.v*sin(datum.k*2*PI/11)", "as": "py"}],
        "mark": {"type": "line", "interpolate": "linear-closed", "color": "#666666", "strokeWidth": 1, "strokeDash": [4, 3], "fill": "#999999", "fillOpacity": 0.12},
        "encoding": {"x": {"field": "px", "type": "quantitative", "axis": null}, "y": {"field": "py", "type": "quantitative", "axis": null}, "order": {"field": "k", "type": "quantitative"}}},
       {"data": {"name": "radar"}, "transform": [{"filter": "datum.m == 'En_FT'"}, {"calculate": "datum.v*cos(datum.k*2*PI/11)", "as": "px"}, {"calculate": "datum.v*sin(datum.k*2*PI/11)", "as": "py"}],
        "mark": {"type": "point", "filled": true, "size": 16, "color": "#fc8d62", "opacity": 1},
        "encoding": {"x": {"field": "px", "type": "quantitative", "axis": null}, "y": {"field": "py", "type": "quantitative", "axis": null}}},
       {"data": {"name": "radar"}, "transform": [{"filter": "datum.m == 'Human'"}, {"calculate": "datum.v*cos(datum.k*2*PI/11)", "as": "px"}, {"calculate": "datum.v*sin(datum.k*2*PI/11)", "as": "py"}],
        "mark": {"type": "point", "filled": true, "size": 7, "color": "#666666", "opacity": 1},
        "encoding": {"x": {"field": "px", "type": "quantitative", "axis": null}, "y": {"field": "py", "type": "quantitative", "axis": null}}},
       {"data": {"name": "dims"}, "transform": [{"calculate": "6.2*cos(datum.k*2*PI/11)", "as": "lx"}, {"calculate": "6.2*sin(datum.k*2*PI/11)", "as": "ly"}],
        "mark": {"type": "text", "fontSize": 6.5, "color": "#222222", "align": "center", "baseline": "middle"},
        "encoding": {"x": {"field": "lx", "type": "quantitative", "axis": null}, "y": {"field": "ly", "type": "quantitative", "axis": null}, "text": {"field": "d", "type": "nominal"}}}
      ]
     },
     {
      "width": 162, "height": 162, "view": {"stroke": null},
      "title": {"text": "Nl_FT", "fontSize": 10, "fontWeight": "bold", "color": "#111111", "offset": 10, "frame": "group"},
      "layer": [
       {"data": {"name": "rings"}, "mark": {"type": "point", "shape": "circle", "filled": false, "strokeWidth": 0.8, "opacity": 1},
        "encoding": {"x": {"datum": 0, "type": "quantitative", "scale": {"domain": [-5.5, 5.5], "nice": false, "zero": false}, "axis": null}, "y": {"datum": 0, "type": "quantitative", "scale": {"domain": [-5.5, 5.5], "nice": false, "zero": false}, "axis": null},
         "size": {"field": "r", "type": "quantitative", "scale": {"type": "pow", "exponent": 2, "domain": [0, 5.5], "range": [0, 26244]}, "legend": null},
         "stroke": {"field": "o", "type": "nominal", "scale": {"domain": [0, 1], "range": ["#e3e3e3", "#333333"]}, "legend": null}}},
       {"data": {"name": "dims"}, "transform": [{"calculate": "5.5*cos(datum.k*2*PI/11)", "as": "ex"}, {"calculate": "5.5*sin(datum.k*2*PI/11)", "as": "ey"}, {"calculate": "0", "as": "zz"}],
        "mark": {"type": "rule", "color": "#e3e3e3", "strokeWidth": 0.7},
        "encoding": {"x": {"field": "zz", "type": "quantitative", "axis": null}, "y": {"field": "zz", "type": "quantitative", "axis": null}, "x2": {"field": "ex"}, "y2": {"field": "ey"}}},
       {"data": {"name": "rticks"}, "transform": [{"calculate": "0", "as": "zz"}], "mark": {"type": "text", "fontSize": 6.5, "color": "#9a9a9a", "dx": 2, "dy": -3},
        "encoding": {"x": {"field": "t", "type": "quantitative", "axis": null}, "y": {"field": "zz", "type": "quantitative", "axis": null}, "text": {"field": "t", "type": "quantitative"}}},
       {"data": {"name": "radar"}, "transform": [{"filter": "datum.m == 'Nl_FT'"}, {"calculate": "datum.v*cos(datum.k*2*PI/11)", "as": "px"}, {"calculate": "datum.v*sin(datum.k*2*PI/11)", "as": "py"}],
        "mark": {"type": "line", "interpolate": "linear-closed", "color": "#8da0cb", "strokeWidth": 1.6, "fill": "#8da0cb", "fillOpacity": 0.22},
        "encoding": {"x": {"field": "px", "type": "quantitative", "axis": null}, "y": {"field": "py", "type": "quantitative", "axis": null}, "order": {"field": "k", "type": "quantitative"}}},
       {"data": {"name": "radar"}, "transform": [{"filter": "datum.m == 'Human'"}, {"calculate": "datum.v*cos(datum.k*2*PI/11)", "as": "px"}, {"calculate": "datum.v*sin(datum.k*2*PI/11)", "as": "py"}],
        "mark": {"type": "line", "interpolate": "linear-closed", "color": "#666666", "strokeWidth": 1, "strokeDash": [4, 3], "fill": "#999999", "fillOpacity": 0.12},
        "encoding": {"x": {"field": "px", "type": "quantitative", "axis": null}, "y": {"field": "py", "type": "quantitative", "axis": null}, "order": {"field": "k", "type": "quantitative"}}},
       {"data": {"name": "radar"}, "transform": [{"filter": "datum.m == 'Nl_FT'"}, {"calculate": "datum.v*cos(datum.k*2*PI/11)", "as": "px"}, {"calculate": "datum.v*sin(datum.k*2*PI/11)", "as": "py"}],
        "mark": {"type": "point", "filled": true, "size": 16, "color": "#8da0cb", "opacity": 1},
        "encoding": {"x": {"field": "px", "type": "quantitative", "axis": null}, "y": {"field": "py", "type": "quantitative", "axis": null}}},
       {"data": {"name": "radar"}, "transform": [{"filter": "datum.m == 'Human'"}, {"calculate": "datum.v*cos(datum.k*2*PI/11)", "as": "px"}, {"calculate": "datum.v*sin(datum.k*2*PI/11)", "as": "py"}],
        "mark": {"type": "point", "filled": true, "size": 7, "color": "#666666", "opacity": 1},
        "encoding": {"x": {"field": "px", "type": "quantitative", "axis": null}, "y": {"field": "py", "type": "quantitative", "axis": null}}},
       {"data": {"name": "dims"}, "transform": [{"calculate": "6.2*cos(datum.k*2*PI/11)", "as": "lx"}, {"calculate": "6.2*sin(datum.k*2*PI/11)", "as": "ly"}],
        "mark": {"type": "text", "fontSize": 6.5, "color": "#222222", "align": "center", "baseline": "middle"},
        "encoding": {"x": {"field": "lx", "type": "quantitative", "axis": null}, "y": {"field": "ly", "type": "quantitative", "axis": null}, "text": {"field": "d", "type": "nominal"}}}
      ]
     },
     {
      "width": 162, "height": 162, "view": {"stroke": null},
      "title": {"text": "QA_FT", "fontSize": 10, "fontWeight": "bold", "color": "#111111", "offset": 10, "frame": "group"},
      "layer": [
       {"data": {"name": "rings"}, "mark": {"type": "point", "shape": "circle", "filled": false, "strokeWidth": 0.8, "opacity": 1},
        "encoding": {"x": {"datum": 0, "type": "quantitative", "scale": {"domain": [-5.5, 5.5], "nice": false, "zero": false}, "axis": null}, "y": {"datum": 0, "type": "quantitative", "scale": {"domain": [-5.5, 5.5], "nice": false, "zero": false}, "axis": null},
         "size": {"field": "r", "type": "quantitative", "scale": {"type": "pow", "exponent": 2, "domain": [0, 5.5], "range": [0, 26244]}, "legend": null},
         "stroke": {"field": "o", "type": "nominal", "scale": {"domain": [0, 1], "range": ["#e3e3e3", "#333333"]}, "legend": null}}},
       {"data": {"name": "dims"}, "transform": [{"calculate": "5.5*cos(datum.k*2*PI/11)", "as": "ex"}, {"calculate": "5.5*sin(datum.k*2*PI/11)", "as": "ey"}, {"calculate": "0", "as": "zz"}],
        "mark": {"type": "rule", "color": "#e3e3e3", "strokeWidth": 0.7},
        "encoding": {"x": {"field": "zz", "type": "quantitative", "axis": null}, "y": {"field": "zz", "type": "quantitative", "axis": null}, "x2": {"field": "ex"}, "y2": {"field": "ey"}}},
       {"data": {"name": "rticks"}, "transform": [{"calculate": "0", "as": "zz"}], "mark": {"type": "text", "fontSize": 6.5, "color": "#9a9a9a", "dx": 2, "dy": -3},
        "encoding": {"x": {"field": "t", "type": "quantitative", "axis": null}, "y": {"field": "zz", "type": "quantitative", "axis": null}, "text": {"field": "t", "type": "quantitative"}}},
       {"data": {"name": "radar"}, "transform": [{"filter": "datum.m == 'QA_FT'"}, {"calculate": "datum.v*cos(datum.k*2*PI/11)", "as": "px"}, {"calculate": "datum.v*sin(datum.k*2*PI/11)", "as": "py"}],
        "mark": {"type": "line", "interpolate": "linear-closed", "color": "#e78ac3", "strokeWidth": 1.6, "fill": "#e78ac3", "fillOpacity": 0.22},
        "encoding": {"x": {"field": "px", "type": "quantitative", "axis": null}, "y": {"field": "py", "type": "quantitative", "axis": null}, "order": {"field": "k", "type": "quantitative"}}},
       {"data": {"name": "radar"}, "transform": [{"filter": "datum.m == 'Human'"}, {"calculate": "datum.v*cos(datum.k*2*PI/11)", "as": "px"}, {"calculate": "datum.v*sin(datum.k*2*PI/11)", "as": "py"}],
        "mark": {"type": "line", "interpolate": "linear-closed", "color": "#666666", "strokeWidth": 1, "strokeDash": [4, 3], "fill": "#999999", "fillOpacity": 0.12},
        "encoding": {"x": {"field": "px", "type": "quantitative", "axis": null}, "y": {"field": "py", "type": "quantitative", "axis": null}, "order": {"field": "k", "type": "quantitative"}}},
       {"data": {"name": "radar"}, "transform": [{"filter": "datum.m == 'QA_FT'"}, {"calculate": "datum.v*cos(datum.k*2*PI/11)", "as": "px"}, {"calculate": "datum.v*sin(datum.k*2*PI/11)", "as": "py"}],
        "mark": {"type": "point", "filled": true, "size": 16, "color": "#e78ac3", "opacity": 1},
        "encoding": {"x": {"field": "px", "type": "quantitative", "axis": null}, "y": {"field": "py", "type": "quantitative", "axis": null}}},
       {"data": {"name": "radar"}, "transform": [{"filter": "datum.m == 'Human'"}, {"calculate": "datum.v*cos(datum.k*2*PI/11)", "as": "px"}, {"calculate": "datum.v*sin(datum.k*2*PI/11)", "as": "py"}],
        "mark": {"type": "point", "filled": true, "size": 7, "color": "#666666", "opacity": 1},
        "encoding": {"x": {"field": "px", "type": "quantitative", "axis": null}, "y": {"field": "py", "type": "quantitative", "axis": null}}},
       {"data": {"name": "dims"}, "transform": [{"calculate": "6.2*cos(datum.k*2*PI/11)", "as": "lx"}, {"calculate": "6.2*sin(datum.k*2*PI/11)", "as": "ly"}],
        "mark": {"type": "text", "fontSize": 6.5, "color": "#222222", "align": "center", "baseline": "middle"},
        "encoding": {"x": {"field": "lx", "type": "quantitative", "axis": null}, "y": {"field": "ly", "type": "quantitative", "axis": null}, "text": {"field": "d", "type": "nominal"}}}
      ]
     }
    ],
    "spacing": 66,
    "bounds": "flush",
    "title": {"text": "Radar Charts for 'SHOUTER' - Model Comparison", "fontSize": 11.5, "fontWeight": "bold", "color": "#111111", "offset": 12, "anchor": "middle"}
   }
  ],
  "title": {"text": "(e)", "orient": "bottom", "font": "Liberation Serif", "fontSize": 17, "fontWeight": "normal", "color": "#111111", "offset": 16, "anchor": "middle", "frame": "bounds"}
 }
],
"spacing": 30,
"center": true,
"resolve": {"scale": {"color": "independent"}}
}
